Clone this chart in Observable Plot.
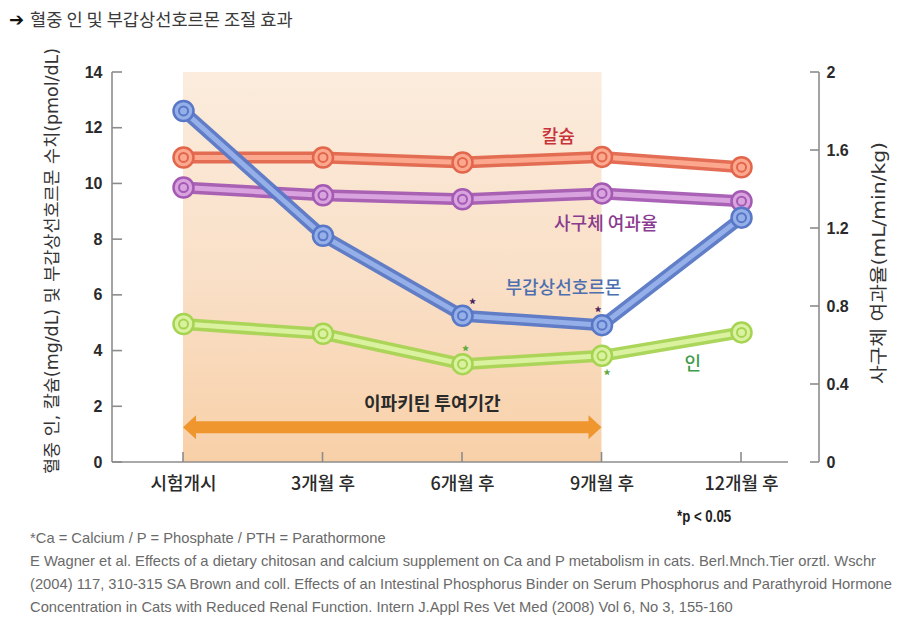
<!DOCTYPE html>
<html><head><meta charset="utf-8">
<script src="https://cdn.jsdelivr.net/npm/d3@7"></script>
<script src="https://cdn.jsdelivr.net/npm/@observablehq/plot@0.6"></script>
<style>
body{margin:0;background:#fff;width:907px;height:618px;position:relative;overflow:hidden;font-family:'Noto Sans CJK KR','Noto Sans',sans-serif}
#title{position:absolute;left:9px;top:6px;font-size:17.6px;color:#3a3a3a;white-space:nowrap}
#title b{font-family:'DejaVu Sans',sans-serif;color:#111;font-size:18px;margin-right:6px;font-weight:bold}
#chart{position:absolute;left:0;top:40px}
#pval{position:absolute;left:677px;top:507px;font-weight:bold;font-size:17px;color:#222;font-family:'Liberation Sans',sans-serif;white-space:nowrap;transform:scaleX(0.78);transform-origin:0 0}
#cap{position:absolute;left:30px;top:526px;font-size:15px;color:#6a6a6a;line-height:23px;font-family:'Liberation Sans',sans-serif;white-space:nowrap;transform-origin:0 0}
#cap div{display:block;width:max-content}
</style></head>
<body>
<div id="title"><b>➔</b>혈중 인 및 부갑상선호르몬 조절 효과</div>
<div id="chart"></div>
<div id="pval">*p &lt; 0.05</div>
<div id="cap"></div>
<script>
// ---- data ----
const periods = ["시험개시", "3개월 후", "6개월 후", "9개월 후", "12개월 후"];
const months = [0, 3, 6, 9, 12];
const calcium = [10.95, 10.95, 10.77, 10.97, 10.6];      // mg/dL (left axis)
const gfr = [1.41, 1.37, 1.35, 1.38, 1.34];              // mL/min/kg (right axis)
const pth = [12.62, 8.14, 5.27, 4.93, 8.79];             // pmol/dL (left axis)
const phosphate = [4.97, 4.62, 3.53, 3.83, 4.67];        // mg/dL (left axis)
const leftTicks = [0, 2, 4, 6, 8, 10, 12, 14];
const rightTicks = [0, 0.4, 0.8, 1.2, 1.6, 2];
const treatment = {start: 0, end: 9, label: "이파키틴 투여기간"};
const leftTitle = "혈중 인, 칼슘(mg/dL) 및 부갑상선호르몬 수치(pmol/dL)";
const rightTitle = "사구체 여과율(mL/min/kg)";
const captionLines = [
  "*Ca = Calcium / P = Phosphate / PTH = Parathormone",
  "E Wagner et al. Effects of a dietary chitosan and calcium supplement on Ca and P metabolism in cats. Berl.Mnch.Tier orztl. Wschr",
  "(2004) 117, 310-315 SA Brown and coll. Effects of an Intestinal Phosphorus Binder on Serum Phosphorus and Parathyroid Hormone",
  "Concentration in Cats with Reduced Renal Function. Intern J.Appl Res Vet Med (2008) Vol 6, No 3, 155-160"
];
// significant (*p<0.05) points: series and month
const significant = [
  {series: "pth", month: 6}, {series: "pth", month: 9},
  {series: "phosphate", month: 6}, {series: "phosphate", month: 9}
];

const k = 14 / 2; // left max / right max
const seriesDefs = [
  {key: "calcium", name: "칼슘", values: calcium, scale: 1, dark: "#e2664c", light: "#fba88f", text: "#c8323a", lx: 8.06, ly: 11.66},
  {key: "gfr", name: "사구체 여과율", values: gfr, scale: k, dark: "#a45ab2", light: "#d8a3de", text: "#8a3a8f", lx: 9.08, ly: 8.56},
  {key: "phosphate", name: "인", values: phosphate, scale: 1, dark: "#a6d452", light: "#daf2a0", text: "#3f9a4a", lx: 10.95, ly: 3.54},
  {key: "pth", name: "부갑상선호르몬", values: pth, scale: 1, dark: "#5877c6", light: "#95afe9", text: "#4d6fb0", lx: 8.17, ly: 6.24}
];
const rows = s => months.map((m, i) => ({month: m, v: s.values[i] * s.scale, period: periods[i]}));

const marks = [
  Plot.rect([treatment], {x1: "start", x2: "end", y1: 0, y2: 14, fill: "url(#bgGrad)"}),
  Plot.axisY({anchor: "left", ticks: leftTicks, tickSize: 0, tickPadding: 10, label: null, fontSize: 16, fontWeight: "bold"}),
  Plot.axisY({anchor: "right", ticks: rightTicks.map(t => t * k), tickFormat: d => d3.format("~g")(+(d / k).toFixed(2)), tickSize: 0, tickPadding: 7, label: null, fontSize: 16, fontWeight: "bold"}),
  Plot.axisX({ticks: months, tickFormat: d => periods[months.indexOf(d)], tickSize: 0, tickPadding: 15, label: null, fontSize: 18, fontWeight: 500})
];
for (const s of seriesDefs) {
  const data = rows(s);
  marks.push(
    Plot.line(data, {x: "month", y: "v", stroke: s.dark, strokeWidth: 12, strokeLinecap: "round", strokeOpacity: 0.95}),
    Plot.line(data, {x: "month", y: "v", stroke: s.light, strokeWidth: 5, strokeLinecap: "round"}),
    Plot.dot(data, {x: "month", y: "v", r: 10, fill: s.light, stroke: s.dark, strokeWidth: 2.5}),
    Plot.dot(data, {x: "month", y: "v", r: 4.5, fill: s.light, stroke: s.dark, strokeWidth: 2})
  );
}
marks.push(
  Plot.text(seriesDefs, {x: "lx", y: "ly", text: "name", fill: "text", fontSize: 18, fontWeight: 500}),
  Plot.text([treatment], {x: d => (d.start + d.end) / 2 + 0.85, y: 2.1, text: "label", fontSize: 18, fontWeight: "bold", fill: "#2a2a2a"})
);
// significance asterisks
const sigRows = significant.map(d => {
  const s = seriesDefs.find(s => s.key === d.series);
  const i = months.indexOf(d.month);
  return {month: d.month, v: s.values[i] * s.scale, key: d.series};
});
const sigStyle = {
  "pth-6": {dx: 10, dy: -13, fill: "#4b1d5c"},
  "pth-9": {dx: -4, dy: -15, fill: "#4b1d5c"},
  "phosphate-6": {dx: 3, dy: -15, fill: "#5aa83a"},
  "phosphate-9": {dx: 5, dy: 18, fill: "#5aa83a"}
};
for (const d of sigRows) {
  const st = sigStyle[d.key + "-" + d.month];
  marks.push(Plot.text([d], {x: "month", y: "v", text: () => "*", fontSize: 14, fontWeight: "bold", fill: st.fill, dx: st.dx, dy: st.dy + 3}));
}

const chart = Plot.plot({
  width: 907, height: 470,
  marginTop: 32, marginBottom: 48, marginLeft: 112, marginRight: 88,
  x: {domain: [-1.527, 13.677]},
  y: {domain: [0, 14]},
  style: {fontFamily: "'Noto Sans CJK KR','Noto Sans',sans-serif", background: "#fff", color: "#2a2a2a", overflow: "visible"},
  marks
});
document.getElementById("chart").appendChild(chart);

// ---- decorations drawn with the chart's scales ----
const svg = d3.select(chart);
const xs = chart.scale("x"), ys = chart.scale("y");
const X = v => xs.apply(v), Y = v => ys.apply(v);
svg.selectAll('g[aria-label="y-axis tick label"] text').attr("font-family", "'Liberation Sans',Arial,sans-serif");
const defs = svg.insert("defs", ":first-child");
const grad = defs.append("linearGradient").attr("id", "bgGrad").attr("x1", 0).attr("y1", 0).attr("x2", 0).attr("y2", 1);
grad.append("stop").attr("offset", "0%").attr("stop-color", "#fbecdd");
grad.append("stop").attr("offset", "55%").attr("stop-color", "#f9dfc6");
grad.append("stop").attr("offset", "100%").attr("stop-color", "#f8d0a8");

const L = 112, R = 907 - 88, T = Y(14), B = Y(0);
const deco = svg.insert("g", 'g[aria-label="axis"]').attr("stroke", "#8c8c8c").attr("stroke-width", 1.6).attr("fill", "none");
deco.append("line").attr("x1", L).attr("x2", L).attr("y1", T).attr("y2", B);
deco.append("line").attr("x1", R).attr("x2", R).attr("y1", T).attr("y2", B);
deco.append("line").attr("x1", L).attr("x2", R - 31).attr("y1", B).attr("y2", B);
for (const t of leftTicks) deco.append("line").attr("x1", L).attr("x2", L + 10).attr("y1", Y(t)).attr("y2", Y(t));
for (const t of rightTicks) deco.append("line").attr("x1", R).attr("x2", R - 9).attr("y1", Y(t * k)).attr("y2", Y(t * k));
for (const m of months) deco.append("line").attr("x1", X(m)).attr("x2", X(m)).attr("y1", B).attr("y2", B - 10);

// double-headed treatment arrow
const xl = X(treatment.start), xr = X(treatment.end), yc = Y(1.25), bh = 6, hh = 12, hl = 13;
svg.append("path")
  .attr("d", `M${xl},${yc}L${xl+hl},${yc-hh}L${xl+hl},${yc-bh}L${xr-hl},${yc-bh}L${xr-hl},${yc-hh}L${xr},${yc}L${xr-hl},${yc+hh}L${xr-hl},${yc+bh}L${xl+hl},${yc+bh}L${xl+hl},${yc+hh}Z`)
  .attr("fill", "#ef962f");

// axis titles
const titleFont = "'DejaVu Sans','Noto Sans CJK KR',sans-serif";
svg.append("text").attr("transform", `translate(53,${(T + B) / 2 - 6}) rotate(-90)`)
  .attr("text-anchor", "middle").attr("dominant-baseline", "middle")
  .attr("font-family", titleFont).attr("textLength", 426).attr("lengthAdjust", "spacingAndGlyphs")
  .attr("font-size", 17).attr("fill", "#333").text(leftTitle);
svg.append("text").attr("transform", `translate(880,${(T + B) / 2 - 4}) rotate(-90)`)
  .attr("text-anchor", "middle").attr("dominant-baseline", "middle")
  .attr("font-family", titleFont).attr("textLength", 242).attr("lengthAdjust", "spacingAndGlyphs")
  .attr("font-size", 18).attr("fill", "#333").text(rightTitle);

// caption, condensed to the reference's width
const cap = document.getElementById("cap");
cap.innerHTML = captionLines.map(l => `<div>${l}</div>`).join("");
const maxW = d3.max(Array.from(cap.children), el => el.getBoundingClientRect().width);
cap.style.transform = `scaleX(${Math.min(1, 862 / maxW)})`;
</script>
</body></html>
